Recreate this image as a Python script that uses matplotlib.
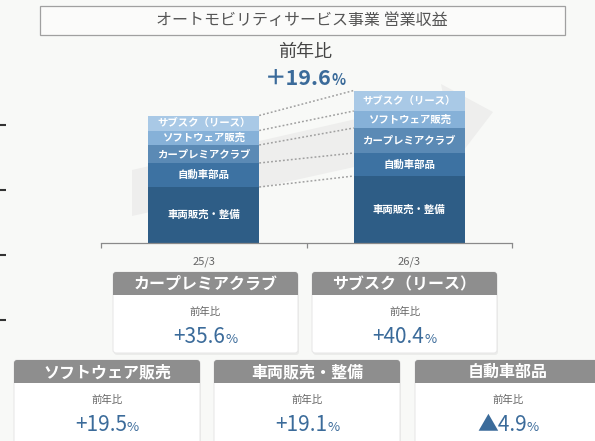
import matplotlib
matplotlib.use("Agg")
import matplotlib.pyplot as plt
from matplotlib.patches import Rectangle, FancyBboxPatch, Polygon
import numpy as np

plt.rcParams['font.family'] = ['Noto Sans CJK JP', 'DejaVu Sans']

# データ（図から読み取った相対値）
years = ["25/3", "26/3"]
segments = ["車両販売・整備", "自動車部品", "カープレミアクラブ", "ソフトウェア販売", "サブスク（リース）"]
vals_25 = [56, 24, 18, 14.5, 15]
vals_26 = [67, 23, 25, 17, 20.5]
seg_colors = ["#2e5d86", "#3d72a2", "#5b8ab5", "#86b1d8", "#a9c9e6"]
total_yoy = 19.6
card_names = ["カープレミアクラブ", "サブスク（リース）", "ソフトウェア販売", "車両販売・整備", "自動車部品"]
card_yoy = [35.6, 40.4, 19.5, 19.1, -4.9]

BLUE = "#3b6b9a"
W, H = 595, 441
fig = plt.figure(figsize=(W / 100, H / 100), dpi=100)
fig.patch.set_facecolor("#f8f9f7")

# 背景用（ピクセル座標）
bg = fig.add_axes([0, 0, 1, 1])
bg.set_xlim(0, W)
bg.set_ylim(H, 0)
bg.axis("off")

# 左端の目盛りの残り
for yy in [125, 190, 255, 320]:
    bg.plot([0, 6], [yy, yy], color="#333333", lw=1.5, solid_capstyle="butt")

# タイトル枠
bg.add_patch(Rectangle((40, 6), 525, 29, fc="#fbfbfa", ec="#a0a0a0", lw=0.9))
bg.text(302, 20.5, "オートモビリティサービス事業 営業収益", ha="center", va="center",
        fontsize=11.5, color="#555555")
bg.text(305, 52, "前年比", ha="center", va="center", fontsize=13, color="#444444")

renderer = fig.canvas.get_renderer()


def fmt(v, full=False):
    if v < 0:
        return "▲" + f"{abs(v):.1f}"
    return ("＋" if full else "+") + f"{v:.1f}"


def pct_text(x, y, num, size, small, weight="normal"):
    t1 = bg.text(x, y, num, ha="left", va="baseline", fontsize=size, color=BLUE, fontweight=weight)
    t2 = bg.text(x, y, "%", ha="left", va="baseline", fontsize=small, color=BLUE, fontweight=weight)
    w1 = t1.get_window_extent(renderer).width
    w2 = t2.get_window_extent(renderer).width
    start = x - (w1 + w2) / 2
    t1.set_x(start)
    t2.set_x(start + w1)


pct_text(305, 85, fmt(total_yoy, full=True), 15.5, 10.5, weight="bold")

# 背景の矢印
arrow = Polygon([(132, 170), (444, 99), (441, 84), (493, 112), (457, 159), (454, 145), (132, 216)],
                closed=True, fc="#eeeeed", ec="none", zorder=0)
bg.add_patch(arrow)

# 積み上げ棒
ax = fig.add_axes([101 / W, (H - 243) / H, 411 / W, 183 / H])
ax.patch.set_alpha(0)
ax.set_xlim(-0.5, 1.5)
ax.set_ylim(0, 183)
x = np.arange(len(years))
bw = 0.54
bottoms = np.zeros(len(years))
for i, seg in enumerate(segments):
    v = np.array([vals_25[i], vals_26[i]])
    ax.bar(x, v, bw, bottom=bottoms, color=seg_colors[i], edgecolor="none", zorder=2)
    for j in range(len(years)):
        ax.text(x[j], bottoms[j] + v[j] / 2, seg, ha="center", va="center", color="white",
                fontsize=7.5, fontweight="bold", zorder=3)
    bottoms = bottoms + v
    ax.plot([x[0] + bw / 2, x[1] - bw / 2], bottoms, ls=(0, (1.2, 1.4)), color="#a0a0a0", lw=1.1, zorder=1)

for s in ["top", "right", "left"]:
    ax.spines[s].set_visible(False)
ax.spines["bottom"].set_color("#8a8a8a")
ax.spines["bottom"].set_linewidth(0.9)
ax.set_yticks([])
ax.set_xticks(x)
ax.set_xticklabels(years, fontsize=8, color="#666666")
ax.tick_params(axis="x", which="major", length=0, pad=10)
ax.set_xticks([-0.5, 0.5, 1.5], minor=True)
ax.tick_params(axis="x", which="minor", length=3.6, color="#8a8a8a", width=0.9)

# カード
def card(cx, cy, w, name, yoy, body_h):
    hh = 23
    bg.add_patch(FancyBboxPatch((cx + 1, cy + 2), w, hh + body_h, boxstyle="round,pad=0,rounding_size=3",
                                fc="#000000", alpha=0.05, ec="none"))
    bg.add_patch(FancyBboxPatch((cx, cy), w, hh + body_h, boxstyle="round,pad=0,rounding_size=3",
                                fc="white", ec="#e8e8e8", lw=0.8))
    bg.add_patch(FancyBboxPatch((cx, cy), w, hh, boxstyle="round,pad=0,rounding_size=3",
                                fc="#8e8e8e", ec="none"))
    bg.add_patch(Rectangle((cx, cy + hh / 2), w, hh / 2, fc="#8e8e8e", ec="none"))
    mid = cx + w / 2
    bg.text(mid, cy + hh / 2 + 0.5, name, ha="center", va="center", color="white",
            fontsize=11.5, fontweight="bold")
    bg.text(mid, cy + hh + 17, "前年比", ha="center", va="center", fontsize=7.5, color="#666666")
    pct_text(mid, cy + hh + 48, fmt(yoy), 15, 9.5)


card(113, 272, 185, card_names[0], card_yoy[0], 58)
card(312, 272, 185, card_names[1], card_yoy[1], 58)
card(14, 360, 186, card_names[2], card_yoy[2], 90)
card(214, 360, 186, card_names[3], card_yoy[3], 90)
card(415, 360, 186, card_names[4], card_yoy[4], 90)

fig.savefig("out.png", dpi=100, facecolor=fig.get_facecolor())
